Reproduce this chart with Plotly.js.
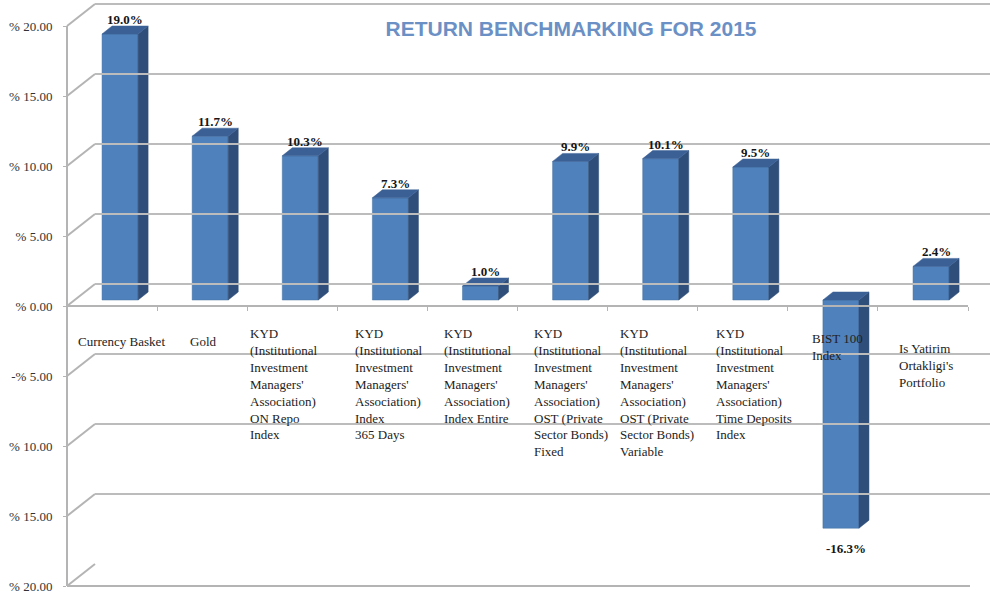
<!DOCTYPE html>
<html>
<head>
<meta charset="utf-8">
<script src="https://cdn.plot.ly/plotly-3.0.1.min.js"></script>
<style>html,body{margin:0;padding:0;background:#fff;}#chart{width:990px;height:600px;}</style>
</head>
<body>
<div id="chart"></div>
<script>
// ---- data ----
const categories = [
  "Currency Basket",
  "Gold",
  "KYD<br>(Institutional<br>Investment<br>Managers'<br>Association)<br>ON Repo<br>Index",
  "KYD<br>(Institutional<br>Investment<br>Managers'<br>Association)<br>Index<br>365 Days",
  "KYD<br>(Institutional<br>Investment<br>Managers'<br>Association)<br>Index Entire",
  "KYD<br>(Institutional<br>Investment<br>Managers'<br>Association)<br>OST (Private<br>Sector Bonds)<br>Fixed",
  "KYD<br>(Institutional<br>Investment<br>Managers'<br>Association)<br>OST (Private<br>Sector Bonds)<br>Variable",
  "KYD<br>(Institutional<br>Investment<br>Managers'<br>Association)<br>Time Deposits<br>Index",
  "BIST 100<br>Index",
  "Is Yatirim<br>Ortakligi's<br>Portfolio"
];
const returns2015 = [19.0, 11.7, 10.3, 7.3, 1.0, 9.9, 10.1, 9.5, -16.3, 2.4];
const yTickVals = [20, 15, 10, 5, 0, -5, -10, -15, -20];
const yTickText = ["% 20.00", "% 15.00", "% 10.00", "% 5.00", "% 0.00", "-% 5.00", "% 10.00", "% 15.00", "% 20.00"];
const chartTitle = "RETURN BENCHMARKING FOR 2015";

// ---- layout helpers (pixel geometry of the pseudo-3D frame) ----
const W = 990, H = 600;
const px = x => x / W, py = y => 1 - y / H;
const PXU = 14;          // pixels per percent
const FRONT0 = 306, BACK0 = 284, BAR0 = 300;
const WALL_L = 67, WALL_B = 95;
const dx = 10 / 90, dy = 8 / PXU, half = 0.2;
const labelDx = [-44, -22, -52, -37, -39, -39, -43, -37, -31, -34];
const labelTop = [332, 332, 324, 324, 324, 324, 324, 324, 329, 339];
const serif = 'Liberation Serif, Times New Roman, serif';

const idx = categories.map((c, i) => i);
const traces = [];

// front faces
traces.push({
  type: 'bar', x: idx, y: returns2015, width: 0.4,
  marker: {color: '#4f81bd', line: {width: 0.5, color: '#45719f'}},
  hoverinfo: 'skip', showlegend: false, xaxis: 'x', yaxis: 'y'
});
// side and top faces
returns2015.forEach((v, i) => {
  const r = i + half;
  traces.push({
    type: 'scatter', mode: 'lines', fill: 'toself', fillcolor: '#2f4e79',
    line: {width: 0.5, color: '#2f4e79'},
    x: [r, r + dx, r + dx, r, r], y: [0, dy, v + dy, v, 0],
    hoverinfo: 'skip', showlegend: false, xaxis: 'x', yaxis: 'y'
  });
  const t = Math.max(v, 0);
  traces.push({
    type: 'scatter', mode: 'lines', fill: 'toself', fillcolor: '#3b6096',
    line: {width: 0.5, color: '#3b6096'},
    x: [i - half, i + half, i + half + dx, i - half + dx, i - half], y: [t, t, t + dy, t + dy, t],
    hoverinfo: 'skip', showlegend: false, xaxis: 'x', yaxis: 'y'
  });
});
// dummy traces to create the frame subplots
traces.push({type: 'scatter', mode: 'markers', x: [0], y: [0], opacity: 0, hoverinfo: 'skip', showlegend: false, xaxis: 'x', yaxis: 'y2'});
traces.push({type: 'scatter', mode: 'markers', x: [0.5], y: [0], opacity: 0, hoverinfo: 'skip', showlegend: false, xaxis: 'x2', yaxis: 'y3'});

const wallColor = '#b4b4b4';
const shapes = [];
yTickVals.forEach(v => {
  shapes.push({type: 'line', xref: 'paper', yref: 'paper',
    x0: px(WALL_L), y0: py(FRONT0 - PXU * v), x1: px(WALL_B), y1: py(BACK0 - PXU * v),
    line: {color: wallColor, width: 2}, layer: 'below'});
});
// front bottom edge of the left wall / floor
shapes.push({type: 'line', xref: 'paper', yref: 'paper',
  x0: px(WALL_L), x1: px(970), y0: py(FRONT0 + PXU * 20), y1: py(FRONT0 + PXU * 20),
  line: {color: wallColor, width: 2}, layer: 'below'});
// top edge of the back wall
shapes.push({type: 'line', xref: 'paper', yref: 'paper',
  x0: px(WALL_B), x1: 1, y0: py(BACK0 - PXU * 20), y1: py(BACK0 - PXU * 20),
  line: {color: '#bcbcbc', width: 2}, layer: 'below'});

const annotations = [];
returns2015.forEach((v, i) => {
  const pos = v >= 0;
  annotations.push({
    x: i + dx / 2, y: pos ? v + dy : v, xref: 'x', yref: 'y',
    text: '<b>' + v.toFixed(1) + '%</b>', showarrow: false,
    xanchor: 'center', yanchor: pos ? 'bottom' : 'top', yshift: pos ? -3 : -11,
    font: {family: serif, size: 13, color: '#151515'}
  });
});
categories.forEach((c, i) => {
  annotations.push({
    x: i, xref: 'x', y: py(labelTop[i]), yref: 'paper',
    text: c, showarrow: false, align: 'left', xanchor: 'left', yanchor: 'top',
    xshift: labelDx[i],
    font: {family: serif, size: 13, color: '#222'}
  });
});

const layout = {
  width: W, height: H,
  margin: {l: 0, r: 0, t: 0, b: 0, pad: 0},
  paper_bgcolor: '#fff', plot_bgcolor: 'rgba(0,0,0,0)',
  showlegend: false,
  title: {text: chartTitle, x: px(571), y: py(29), xref: 'paper', yref: 'container',
    xanchor: 'center', yanchor: 'middle',
    font: {family: 'Liberation Sans, Arial, sans-serif', size: 21, color: '#6b90c5', weight: 'bold'}},
  xaxis: {
    domain: [px(WALL_L), px(968)], range: [-0.589, 9.41],
    anchor: 'free', position: py(FRONT0),
    showline: true, linecolor: wallColor, linewidth: 2,
    ticks: 'outside', ticklen: 4, tickcolor: wallColor, tickwidth: 1,
    tickvals: [-0.59].concat(idx.map(i => i + 0.41)),
    showticklabels: false, showgrid: false, zeroline: false, fixedrange: true
  },
  yaxis: {
    domain: [0, 1], range: [-(H - BAR0) / PXU, BAR0 / PXU], anchor: 'x',
    visible: false, showgrid: false, zeroline: false, fixedrange: true
  },
  yaxis2: {
    domain: [py(FRONT0 + PXU * 20), py(FRONT0 - PXU * 20)], range: [-20, 20],
    anchor: 'free', position: px(WALL_L),
    showline: true, linecolor: wallColor, linewidth: 2,
    ticks: 'outside', ticklen: 3, tickcolor: wallColor,
    tickvals: yTickVals, ticktext: yTickText, ticklabelstandoff: 8,
    tickfont: {family: serif, size: 13, color: '#333'},
    showgrid: false, zeroline: false, fixedrange: true
  },
  xaxis2: {
    domain: [px(WALL_B), 1], range: [0, 1], anchor: 'y3',
    visible: false, showgrid: false, zeroline: false, fixedrange: true
  },
  yaxis3: {
    domain: [py(BACK0 + PXU * 20), py(BACK0 - PXU * 20)], range: [-20, 20], anchor: 'x2',
    tickvals: yTickVals, showticklabels: false, ticks: '',
    showgrid: true, gridcolor: '#bcbcbc', gridwidth: 2,
    zeroline: false, showline: false, fixedrange: true
  },
  shapes: shapes,
  annotations: annotations
};

Plotly.newPlot('chart', traces, layout, {staticPlot: true, displayModeBar: false});
</script>
</body>
</html>
